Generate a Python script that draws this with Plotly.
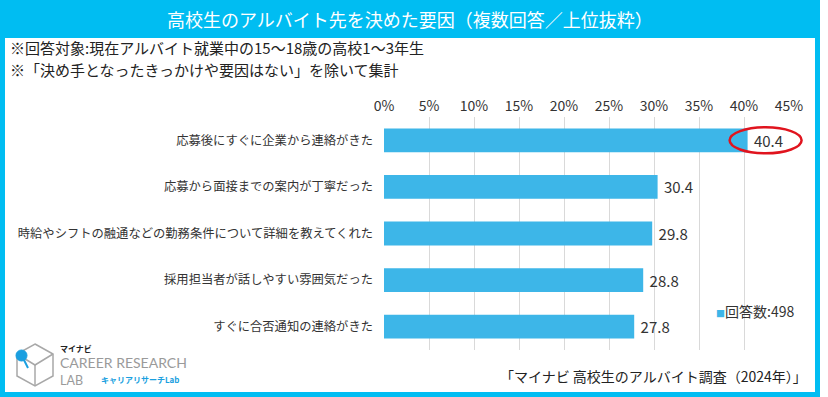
import plotly.graph_objects as go

W, H = 828, 397

# ---- data ----
categories = [
    "応募後にすぐに企業から連絡がきた",
    "応募から面接までの案内が丁寧だった",
    "時給やシフトの融通などの勤務条件について詳細を教えてくれた",
    "採用担当者が話しやすい雰囲気だった",
    "すぐに合否通知の連絡がきた",
]
values = [40.4, 30.4, 29.8, 28.8, 27.8]
tick_vals = [0, 5, 10, 15, 20, 25, 30, 35, 40, 45]
tick_text = ["0%", "5%", "10%", "15%", "20%", "25%", "30%", "35%", "40%", "45%"]
x_max = 45

title_text = "高校生のアルバイト先を決めた要因（複数回答／上位抜粋）"
note_lines = [
    "※回答対象:現在アルバイト就業中の15～18歳の高校1～3年生",
    "※「決め手となったきっかけや要因はない」を除いて集計",
]
legend_text = "回答数:498"
source_text = "「マイナビ 高校生のアルバイト調査（2024年）」"

BAR = "#3DB6E8"
FRAME = "#00BDF2"
TXT = "#333333"
FONT = "Noto Sans CJK JP"


def px(x):
    return x / W


def py(y):
    return 1 - y / H


fig = go.Figure()
fig.add_trace(go.Bar(
    x=values, y=categories, orientation="h",
    marker=dict(color=BAR, line=dict(width=0)),
    text=[f" {v:.1f}" for v in values], textposition="outside",
    textfont=dict(size=15, color=TXT, family=FONT),
    cliponaxis=False, showlegend=False, hoverinfo="skip",
))

shapes = []
# title band
shapes.append(dict(type="rect", xref="paper", yref="paper",
                   x0=px(0), x1=px(820), y0=py(38), y1=py(0),
                   fillcolor=FRAME, line=dict(width=0), layer="below"))
# frame
shapes.append(dict(type="rect", xref="paper", yref="paper",
                   x0=px(2.5), x1=px(817.5), y0=py(394.5), y1=py(0),
                   fillcolor="rgba(0,0,0,0)", line=dict(color=FRAME, width=5)))
# red ellipse around top value
v0 = values[0]
half = 0.28
shapes.append(dict(type="circle", xref="x domain", yref="y domain",
                   x0=(v0 - 2.0) / x_max, x1=(v0 + 6.0) / x_max,
                   y0=1 - (0.5 + half) / len(categories),
                   y1=1 - (0.5 - half) / len(categories),
                   line=dict(color="#E0141E", width=2.5)))

# logo icon (hexagon cube outline)
hexpts = [(35, 344), (53, 354), (53, 376), (35, 386), (17, 376), (17, 354)]
path = "M " + " L ".join(f"{px(x)},{py(y)}" for x, y in hexpts) + " Z"
shapes.append(dict(type="path", xref="paper", yref="paper", path=path,
                   line=dict(color="#A8A8A8", width=1.5)))
inner = [(17, 354), (35, 365), (53, 354)]
path2 = "M " + " L ".join(f"{px(x)},{py(y)}" for x, y in inner)
shapes.append(dict(type="path", xref="paper", yref="paper", path=path2,
                   line=dict(color="#A8A8A8", width=1.5)))
shapes.append(dict(type="line", xref="paper", yref="paper",
                   x0=px(35), x1=px(35), y0=py(365), y1=py(386),
                   line=dict(color="#A8A8A8", width=1.5)))
shapes.append(dict(type="line", xref="paper", yref="paper",
                   x0=px(22), x1=px(28), y0=py(356), y1=py(368),
                   line=dict(color="#1A9FE0", width=2)))
shapes.append(dict(type="circle", xref="paper", yref="paper",
                   x0=px(16), x1=px(27), y0=py(361), y1=py(350),
                   fillcolor="#1A9FE0", line=dict(color="#1A9FE0", width=1)))

annotations = [
    dict(text=title_text, x=px(410), y=py(19), xref="paper", yref="paper",
         showarrow=False, font=dict(size=18, color="white", family=FONT),
         xanchor="center", yanchor="middle"),
    dict(text=note_lines[0], x=px(8), y=py(47), xref="paper", yref="paper",
         showarrow=False, font=dict(size=15, color="#222222", family=FONT),
         xanchor="left", yanchor="middle"),
    dict(text=note_lines[1], x=px(8), y=py(70), xref="paper", yref="paper",
         showarrow=False, font=dict(size=15, color="#222222", family=FONT),
         xanchor="left", yanchor="middle"),
    dict(text=f"<span style='color:{BAR};font-size:9px'>■</span>{legend_text}",
         x=px(714), y=py(311), xref="paper", yref="paper",
         showarrow=False, font=dict(size=14, color=TXT, family=FONT),
         xanchor="left", yanchor="middle"),
    dict(text=source_text, x=px(809), y=py(376), xref="paper", yref="paper",
         showarrow=False, font=dict(size=14, color="#222222", family=FONT),
         xanchor="right", yanchor="middle"),
    # logo text
    dict(text="<b>マイナビ</b>", x=px(58), y=py(348), xref="paper", yref="paper",
         showarrow=False, font=dict(size=8, color="#222222", family=FONT),
         xanchor="left", yanchor="middle"),
    dict(text="CAREER RESEARCH", x=px(58), y=py(362), xref="paper", yref="paper",
         showarrow=False, font=dict(size=14, color="#9A9A9A", family="Lato"),
         xanchor="left", yanchor="middle"),
    dict(text="LAB", x=px(58), y=py(380), xref="paper", yref="paper",
         showarrow=False, font=dict(size=12.5, color="#9A9A9A", family="Lato"),
         xanchor="left", yanchor="middle"),
    dict(text="<b>キャリアリサーチLab</b>", x=px(99), y=py(379), xref="paper", yref="paper",
         showarrow=False, font=dict(size=8, color="#1A9FE0", family=FONT),
         xanchor="left", yanchor="middle"),
]

fig.update_layout(
    width=W, height=H,
    margin=dict(l=0, r=0, t=0, b=0, pad=0),
    paper_bgcolor="white", plot_bgcolor="white",
    bargap=0.49,
    shapes=shapes, annotations=annotations,
    font=dict(family=FONT, color=TXT),
    xaxis=dict(domain=[px(384), px(789)], range=[0, x_max], side="top",
               tickvals=tick_vals, ticktext=tick_text,
               tickfont=dict(size=14, color=TXT, family=FONT),
               showgrid=True, gridcolor="#D9D9D9", gridwidth=1,
               zeroline=False, showline=False, ticks="",
               ticklabelstandoff=2, fixedrange=True, automargin=False),
    yaxis=dict(domain=[py(350), py(117)], autorange="reversed",
               tickfont=dict(size=12.3, color=TXT, family=FONT),
               showgrid=False, zeroline=False, showline=False, ticks="",
               ticklabelstandoff=10, fixedrange=True, automargin=False),
)

fig.write_html(
    "out.html",
    config={"displayModeBar": False},
    post_script="document.body.style.margin='0';document.body.style.overflow='hidden';",
)
